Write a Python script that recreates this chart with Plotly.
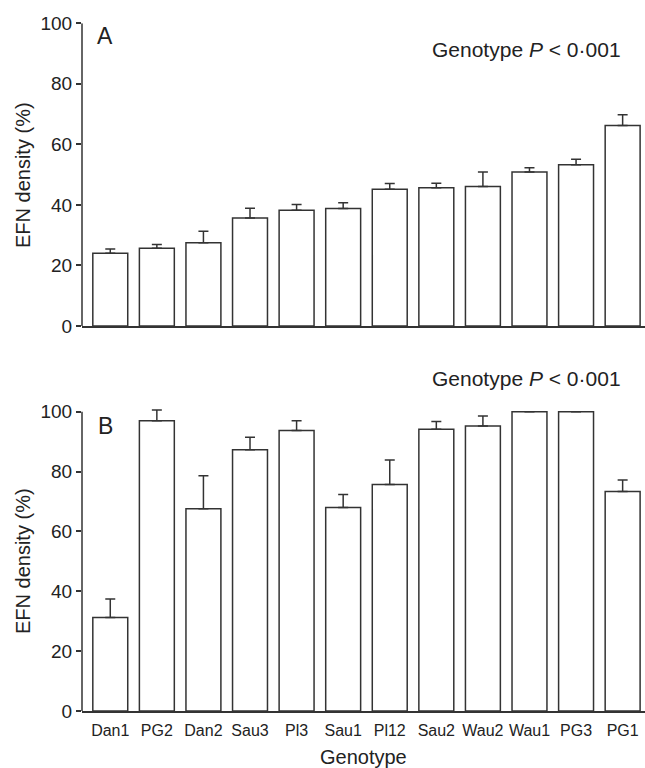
import plotly.graph_objects as go

genotypes_b = ["Dan1", "PG2", "Dan2", "Sau3", "Pl3", "Sau1", "Pl12", "Sau2", "Wau2", "Wau1", "PG3", "PG1"]
positions_a = list(range(12))
means_a = [24.0, 25.7, 27.5, 35.7, 38.2, 38.8, 45.2, 45.7, 46.1, 50.9, 53.3, 66.2]
err_a = [1.4, 1.2, 3.8, 3.2, 1.9, 1.9, 1.9, 1.5, 4.8, 1.4, 1.8, 3.6]
means_b = [31.2, 97.0, 67.6, 87.3, 93.7, 68.0, 75.7, 94.1, 95.2, 100, 100, 73.3]
err_b = [6.2, 3.6, 11.0, 4.2, 3.3, 4.3, 8.2, 2.6, 3.4, 0, 0, 3.9]
y_ticks = [0, 20, 40, 60, 80, 100]

W, H = 645, 768
INK = "#333333"
FONT = "Liberation Sans, Arial, Helvetica, sans-serif"

def px_x(p):
    return p / W

def px_y(p):
    return 1 - p / H

bar_style = dict(marker=dict(color="white", line=dict(color=INK, width=1.5)), width=0.75,
                 showlegend=False)
err_style = dict(color=INK, thickness=1.5, width=5)

fig = go.Figure()
fig.add_trace(go.Bar(x=positions_a, y=means_a, xaxis="x", yaxis="y",
                     error_y=dict(type="data", array=err_a, arrayminus=[0] * 12, symmetric=False,
                                  **err_style), **bar_style))
fig.add_trace(go.Bar(x=list(range(12)), y=means_b, xaxis="x2", yaxis="y2",
                     error_y=dict(type="data", array=err_b, arrayminus=[0] * 12, symmetric=False,
                                  **err_style), **bar_style))

xdom = [px_x(82), 1.0]
xcommon = dict(domain=xdom, range=[-0.607, 11.48], showline=True, linecolor=INK, linewidth=1.5,
               showgrid=False, zeroline=False, ticks="", automargin=False)
ycommon = dict(tickvals=y_ticks, showline=False, ticks="outside", ticklen=5, tickwidth=1.5,
               tickcolor=INK, showgrid=False, zeroline=False, automargin=False,
               tickfont=dict(size=19, color="#222", family=FONT))

# panel B gets a little headroom so the PG2 error cap above 100 is not clipped;
# 100 still lands on the same pixel row (411.7) as in the reference
B_TOP = 102
b_px_per_unit = (711 - 411.7) / 100

fig.update_layout(
    width=W, height=H,
    margin=dict(l=0, r=0, t=0, b=0),
    plot_bgcolor="white", paper_bgcolor="white",
    font=dict(family=FONT, color="#222"),
    bargap=0.25,
    xaxis=dict(anchor="y", showticklabels=False, **xcommon),
    yaxis=dict(anchor="x", domain=[px_y(326), px_y(23.3)], range=[0, 100], **ycommon),
    xaxis2=dict(anchor="y2", tickvals=list(range(12)), ticktext=genotypes_b, ticklabelstandoff=4,
                tickfont=dict(size=16, color="#222", family=FONT), **xcommon),
    yaxis2=dict(anchor="x2", domain=[px_y(711), px_y(711 - B_TOP * b_px_per_unit)],
                range=[0, B_TOP], **ycommon),
)

# y-axis lines, running from 0 to 100 only
for xr, yr in (("x domain", "y"), ("x2 domain", "y2")):
    fig.add_shape(type="line", xref=xr, yref=yr, x0=0, x1=0, y0=0, y1=100,
                  line=dict(color=INK, width=1.5), layer="above")

ann = []
def add_text(text, x, y, size, angle=0):
    ann.append(dict(text=text, x=px_x(x), y=px_y(y), xref="paper", yref="paper",
                    showarrow=False, xanchor="center", yanchor="middle", textangle=angle,
                    font=dict(size=size, color="#222", family=FONT)))

add_text("A", 105, 36, 23)
add_text("B", 105, 426, 23)
add_text("Genotype <i>P</i> < 0·001", 526, 50, 21)
add_text("Genotype <i>P</i> < 0·001", 526, 378, 21)
add_text("EFN density (%)", 23, 175, 20, -90)
add_text("EFN density (%)", 23, 561, 20, -90)
add_text("Genotype", 363, 757, 20)
fig.update_layout(annotations=ann)

fig.write_html("out.html", config={"displayModeBar": False},
               post_script="document.body.style.margin='0';document.body.style.overflow='hidden';")
